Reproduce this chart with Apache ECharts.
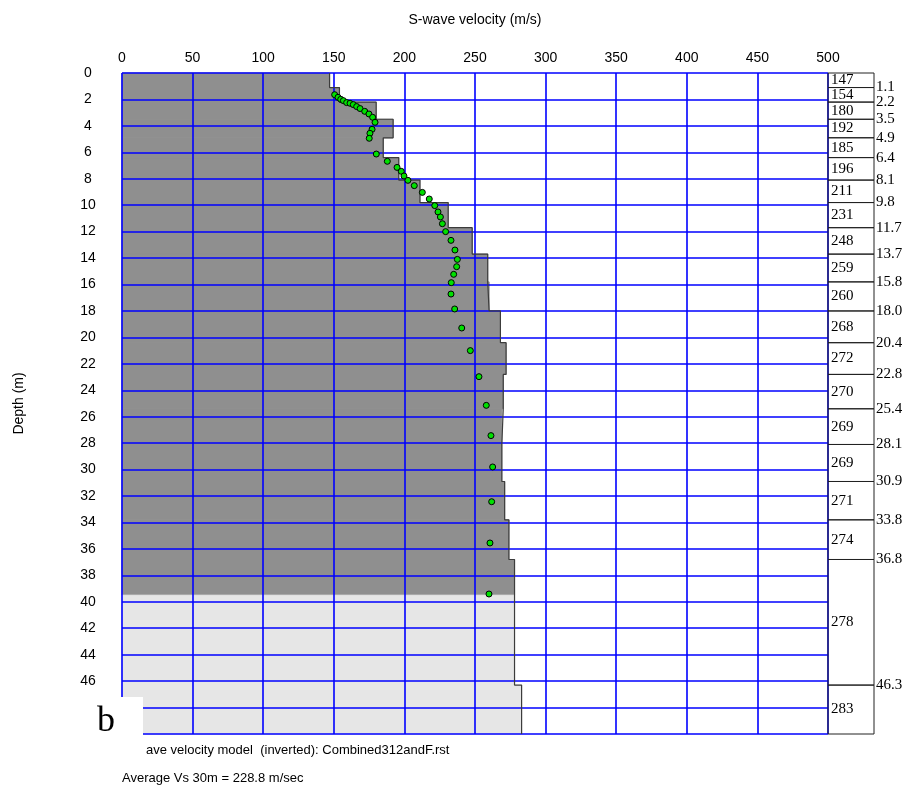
<!DOCTYPE html>
<html>
<head>
<meta charset="utf-8">
<script src="https://cdn.jsdelivr.net/npm/echarts@6/dist/echarts.min.js"></script>
<style>
  html, body { margin: 0; padding: 0; background: #fff; }
  #chart { width: 913px; height: 789px; }
</style>
</head>
<body>
<div id="chart"></div>
<script>
// layered model (inverted)
const layerTops = [0, 1.1, 2.2, 3.5, 4.9, 6.4, 8.1, 9.8, 11.7, 13.7, 15.8, 18.0, 20.4, 22.8, 25.4, 28.1, 30.9, 33.8, 36.8, 46.3];
const modelBottom = 50;
const layerVs = [147, 154, 180, 192, 185, 196, 211, 231, 248, 259, 260, 268, 272, 270, 269, 269, 271, 274, 278, 283];
const investigationDepth = 39.5;

// dispersion points
const pointVs = [150.6, 153, 154.9, 156.8, 159.1, 161.5, 163.8, 166.2, 168.6, 171.9, 174.9, 177.5, 179.2, 177.1, 175.6, 175.1,
  180.1, 187.9, 194.8, 197.8, 199.7, 202.5, 207, 212.7, 217.6, 221.5, 223.8, 225.5, 226.9, 229.2, 233, 235.8, 237.5,
  237, 234.9, 233.2, 233, 235.6, 240.6, 246.7, 252.8, 258, 261.3, 262.5, 261.8, 260.6, 259.9];
const pointDepths = [1.64, 1.84, 1.99, 2.09, 2.24, 2.29, 2.39, 2.54, 2.69, 2.90, 3.10, 3.35, 3.73, 4.26, 4.56, 4.94,
  6.13, 6.68, 7.14, 7.44, 7.79, 8.12, 8.52, 9.03, 9.53, 10.03, 10.51, 10.89, 11.40, 12.0, 12.66, 13.39, 14.1,
  14.65, 15.23, 15.86, 16.72, 17.85, 19.29, 21.0, 22.97, 25.14, 27.43, 29.80, 32.43, 35.55, 39.41];

const layerBottoms = layerTops.slice(1).concat([modelBottom]);

// fill pieces, split at depth of investigation
const fillPieces = [];
for (let i = 0; i < layerVs.length; i++) {
  const t = layerTops[i], b = layerBottoms[i], v = layerVs[i];
  if (t < investigationDepth && b > investigationDepth) {
    fillPieces.push([t, investigationDepth, v, 0]);
    fillPieces.push([investigationDepth, b, v, 1]);
  } else {
    fillPieces.push([t, b, v, b <= investigationDepth ? 0 : 1]);
  }
}

// stepped outline
const outline = [];
for (let i = 0; i < layerVs.length; i++) {
  outline.push([layerVs[i], layerTops[i]]);
  outline.push([layerVs[i], layerBottoms[i]]);
}

const boxData = layerVs.map((v, i) => [layerTops[i], layerBottoms[i], v]);

const chart = echarts.init(document.getElementById('chart'));
const sans = 'Liberation Sans, Arial, sans-serif';
const serif = 'Liberation Serif, Times New Roman, serif';
const blue = '#0000ff';

const option = {
  animation: false,
  backgroundColor: '#fff',
  grid: [
    { left: 122, top: 73, width: 706, height: 661 },
    { left: 828, top: 73, width: 46, height: 661 }
  ],
  xAxis: [
    {
      type: 'value', gridIndex: 0, position: 'top', min: 0, max: 500, interval: 50,
      name: 'S-wave velocity (m/s)', nameLocation: 'middle', nameGap: 46,
      nameTextStyle: { fontFamily: sans, fontSize: 14, color: '#000' },
      axisLine: { show: false }, axisTick: { show: false },
      axisLabel: { fontFamily: sans, fontSize: 14, color: '#000', margin: 8 },
      splitLine: { show: true, lineStyle: { color: blue, width: 1.6 } }
    },
    { type: 'value', gridIndex: 1, min: 0, max: 1, show: false }
  ],
  yAxis: [
    {
      type: 'value', gridIndex: 0, inverse: true, min: 0, max: 50, interval: 2,
      name: 'Depth (m)', nameLocation: 'middle', nameGap: 96, nameRotate: 90,
      nameTextStyle: { fontFamily: sans, fontSize: 14, color: '#000' },
      axisLine: { show: false }, axisTick: { show: false },
      axisLabel: {
        fontFamily: sans, fontSize: 14, color: '#000', margin: 34, align: 'center',
        formatter: v => (v > 46 ? '' : String(v))
      },
      splitLine: { show: true, lineStyle: { color: blue, width: 1.6 } }
    },
    { type: 'value', gridIndex: 1, inverse: true, min: 0, max: 50, show: false }
  ],
  series: [
    {
      type: 'custom', xAxisIndex: 0, yAxisIndex: 0, z: -1, silent: true,
      data: fillPieces,
      renderItem: (params, api) => {
        const p0 = api.coord([0, api.value(0)]);
        const p1 = api.coord([api.value(2), api.value(1)]);
        const c = api.value(3) ? '#e6e6e6' : '#8f8f8f';
        return {
          type: 'rect',
          shape: { x: p0[0], y: p0[1], width: p1[0] - p0[0], height: p1[1] - p0[1] },
          style: { fill: c, stroke: c, lineWidth: 1 }
        };
      }
    },
    {
      type: 'line', xAxisIndex: 0, yAxisIndex: 0, z: 3, silent: true,
      data: outline, showSymbol: false, symbol: 'none',
      lineStyle: { color: '#3c3c3c', width: 1.2 }
    },
    {
      type: 'scatter', xAxisIndex: 0, yAxisIndex: 0, z: 4,
      data: pointVs.map((v, i) => [v, pointDepths[i]]),
      symbolSize: 6,
      itemStyle: { color: '#00e000', borderColor: '#000', borderWidth: 1, opacity: 1 }
    },
    {
      type: 'custom', xAxisIndex: 1, yAxisIndex: 1, z: 3, silent: true,
      data: boxData,
      renderItem: (params, api) => {
        const p0 = api.coord([0, api.value(0)]);
        const p1 = api.coord([1, api.value(1)]);
        const children = [
          {
            type: 'rect',
            shape: { x: p0[0], y: p0[1], width: p1[0] - p0[0], height: p1[1] - p0[1] },
            style: { fill: 'none', stroke: '#222', lineWidth: 1 }
          },
          {
            type: 'text',
            style: {
              text: String(api.value(2)), x: p0[0] + 3, y: (p0[1] + p1[1]) / 2,
              font: '15px ' + serif, fill: '#000', align: 'left', verticalAlign: 'middle'
            }
          }
        ];
        if (api.value(1) < modelBottom) {
          children.push({
            type: 'text',
            style: {
              text: api.value(1).toFixed(1), x: p1[0] + 2, y: p1[1],
              font: '15px ' + serif, fill: '#000', align: 'left', verticalAlign: 'middle'
            }
          });
        }
        return { type: 'group', children: children };
      }
    }
  ],
  graphic: [
    { type: 'rect', left: 80, top: 697, shape: { width: 63, height: 40 }, style: { fill: '#fff' }, z: 100 },
    { type: 'text', left: 97, top: 704, style: { text: 'b', font: '36px ' + serif, fill: '#000' }, z: 101 },
    { type: 'text', left: 146, top: 744, style: { text: 'ave velocity model  (inverted): Combined312andF.rst', font: '13px ' + sans, fill: '#000' }, z: 101 },
    { type: 'text', left: 122, top: 772, style: { text: 'Average Vs 30m = 228.8 m/sec', font: '13px ' + sans, fill: '#000' }, z: 101 }
  ]
};

chart.setOption(option);
</script>
</body>
</html>
